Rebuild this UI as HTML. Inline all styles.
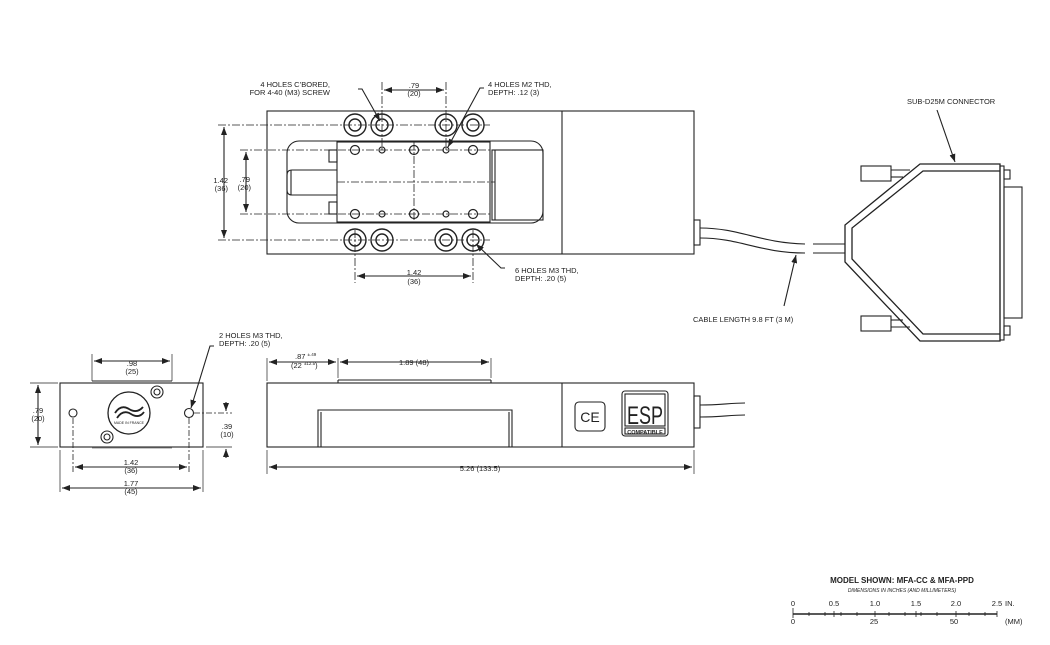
<!DOCTYPE html>
<html><head><meta charset="utf-8"><style>
html,body{margin:0;padding:0;background:#fff}
svg{display:block}
text{font-family:"Liberation Sans",sans-serif;font-size:7.5px;fill:#222}
</style></head><body>
<svg width="1050" height="645" viewBox="0 0 1050 645" xmlns="http://www.w3.org/2000/svg">
<defs>
<marker id="a" markerWidth="8" markerHeight="6" refX="8" refY="3" orient="auto-start-reverse" markerUnits="userSpaceOnUse"><path d="M0,0 L8,3 L0,6 z" fill="#222"/></marker>
</defs>
<g stroke="#222" fill="none" stroke-width="1.1">
<!-- TOP VIEW -->
<rect x="267" y="111" width="427" height="143"/>
<line x1="562" y1="111" x2="562" y2="254"/>
<rect x="287" y="141" width="256" height="82" rx="12"/>
<rect x="337" y="142" width="153" height="80"/>
<rect x="492" y="150" width="51" height="70"/>
<line x1="495" y1="150" x2="495" y2="220"/>
<path d="M337,170 H292 Q287,170 287,175 V190 Q287,195 292,195 H337"/>
<line x1="291" y1="170" x2="291" y2="195"/>
<rect x="329" y="150" width="8" height="12"/>
<rect x="329" y="202" width="8" height="12"/>
<rect x="694" y="220" width="6" height="25"/>
<g stroke-width="1.4">
<circle cx="355" cy="125" r="11"/><circle cx="355" cy="125" r="6"/>
<circle cx="382" cy="125" r="11"/><circle cx="382" cy="125" r="6"/>
<circle cx="446" cy="125" r="11"/><circle cx="446" cy="125" r="6"/>
<circle cx="473" cy="125" r="11"/><circle cx="473" cy="125" r="6"/>
<circle cx="355" cy="240" r="11"/><circle cx="355" cy="240" r="6"/>
<circle cx="382" cy="240" r="11"/><circle cx="382" cy="240" r="6"/>
<circle cx="446" cy="240" r="11"/><circle cx="446" cy="240" r="6"/>
<circle cx="473" cy="240" r="11"/><circle cx="473" cy="240" r="6"/>
</g>
<g stroke-width="1.2">
<circle cx="355" cy="150" r="4.5"/><circle cx="382" cy="150" r="3"/><circle cx="414" cy="150" r="4.5"/><circle cx="446" cy="150" r="3"/><circle cx="473" cy="150" r="4.5"/>
<circle cx="355" cy="214" r="4.5"/><circle cx="382" cy="214" r="3"/><circle cx="414" cy="214" r="4.5"/><circle cx="446" cy="214" r="3"/><circle cx="473" cy="214" r="4.5"/>
</g>
<g stroke-dasharray="8,2,2,2" stroke-width="0.8">
<line x1="218" y1="125" x2="490" y2="125"/><line x1="218" y1="240" x2="490" y2="240"/>
<line x1="240" y1="150" x2="490" y2="150"/><line x1="240" y1="214" x2="490" y2="214"/>
<line x1="337" y1="182" x2="495" y2="182"/>
<line x1="382" y1="82" x2="382" y2="150"/><line x1="446" y1="82" x2="446" y2="150"/>
<line x1="414" y1="142" x2="414" y2="222"/>
<line x1="355" y1="230" x2="355" y2="283"/><line x1="473" y1="230" x2="473" y2="283"/>
</g>
<line x1="384" y1="90" x2="444" y2="90" marker-start="url(#a)" marker-end="url(#a)"/>
<line x1="357" y1="276" x2="471" y2="276" marker-start="url(#a)" marker-end="url(#a)"/>
<line x1="224" y1="127" x2="224" y2="238" marker-start="url(#a)" marker-end="url(#a)"/>
<line x1="246" y1="152" x2="246" y2="212" marker-start="url(#a)" marker-end="url(#a)"/>
<polyline points="358,89 362,89 380,121" marker-end="url(#a)"/>
<polyline points="484,88 480,88 448,147" marker-end="url(#a)"/>
<polyline points="505,268 501,268 476,244" marker-end="url(#a)"/>
<path d="M700,228 C740,228 760,243 805,244"/>
<path d="M700,238 C740,238 760,253 805,253"/>
<line x1="813" y1="244" x2="845" y2="244"/><line x1="813" y1="253" x2="845" y2="253"/>
<polyline points="796,255 784,306" marker-start="url(#a)"/>
<!-- connector -->
<path d="M920,164 H1000 V341 H920 L845,262 V225 Z" stroke-width="1.3"/>
<path d="M1000,171 H923 L852,228 V259 L923,334 H1000" stroke-width="1.3"/>
<rect x="1000" y="166" width="4" height="174"/>
<rect x="1004" y="187" width="18" height="131"/>
<rect x="1004" y="170" width="6" height="9"/><rect x="1004" y="326" width="6" height="9"/>
<rect x="861" y="166" width="30" height="15"/><rect x="861" y="316" width="30" height="15"/>
<line x1="891" y1="170" x2="910" y2="170"/><line x1="891" y1="177" x2="903" y2="177"/>
<line x1="891" y1="320" x2="903" y2="320"/><line x1="891" y1="327" x2="910" y2="327"/>
<polyline points="937,110 955,162" marker-end="url(#a)"/>

<!-- END VIEW -->
<rect x="60" y="383" width="143" height="64"/>
<line x1="92" y1="381" x2="172" y2="381"/>
<line x1="92" y1="448" x2="172" y2="448" stroke-width="0.6"/>
<circle cx="73" cy="413" r="4"/><circle cx="189" cy="413" r="4.5"/>
<circle cx="129" cy="413" r="21" stroke-width="1.3"/>
<path d="M115,413 q6,-9 14,-4 q8,5 14,-2 M117,418 q6,-9 14,-4 q8,5 13,-2" stroke-width="1.8"/>
<circle cx="157" cy="392" r="6"/><circle cx="157" cy="392" r="3"/>
<circle cx="107" cy="437" r="6"/><circle cx="107" cy="437" r="3"/>
<g stroke-dasharray="6,2,2,2" stroke-width="0.8">
<line x1="73" y1="418" x2="73" y2="472"/><line x1="189" y1="418" x2="189" y2="472"/>
<line x1="194" y1="413" x2="232" y2="413"/>
</g>
<line x1="92" y1="354" x2="92" y2="381" stroke-width="0.7"/><line x1="172" y1="354" x2="172" y2="381" stroke-width="0.7"/>
<line x1="94" y1="361" x2="170" y2="361" marker-start="url(#a)" marker-end="url(#a)"/>
<line x1="75" y1="467" x2="187" y2="467" marker-start="url(#a)" marker-end="url(#a)"/>
<line x1="60" y1="450" x2="60" y2="492" stroke-width="0.7"/><line x1="203" y1="450" x2="203" y2="492" stroke-width="0.7"/>
<line x1="62" y1="488" x2="201" y2="488" marker-start="url(#a)" marker-end="url(#a)"/>
<line x1="30" y1="383" x2="58" y2="383" stroke-width="0.7"/><line x1="30" y1="447" x2="58" y2="447" stroke-width="0.7"/>
<line x1="38" y1="385" x2="38" y2="445" marker-start="url(#a)" marker-end="url(#a)"/>
<line x1="206" y1="447" x2="232" y2="447" stroke-width="0.7"/>
<line x1="226" y1="402" x2="226" y2="411" marker-end="url(#a)"/>
<line x1="226" y1="458" x2="226" y2="449" marker-end="url(#a)"/>
<polyline points="214,346 210,346 191,408" marker-end="url(#a)"/>

<!-- SIDE VIEW -->
<rect x="267" y="383" width="427" height="64"/>
<line x1="562" y1="383" x2="562" y2="447"/>
<line x1="338" y1="380" x2="491" y2="380"/><line x1="338" y1="380" x2="338" y2="383"/><line x1="491" y1="380" x2="491" y2="383"/>
<path d="M318,447 V410 H512 V447"/>
<line x1="321" y1="412" x2="321" y2="447"/><line x1="509" y1="412" x2="509" y2="447"/>
<rect x="575" y="402" width="30" height="29" rx="4"/>
<rect x="622" y="391" width="46" height="45" rx="3"/>
<rect x="625" y="394" width="40" height="32"/>
<rect x="625" y="428" width="40" height="6"/>
<rect x="694" y="396" width="6" height="32"/>
<path d="M700,405 C720,405 730,403 745,403 M700,417 C720,417 730,415 745,415"/>
<line x1="267" y1="358" x2="267" y2="381" stroke-width="0.7"/><line x1="338" y1="358" x2="338" y2="378" stroke-width="0.7"/><line x1="491" y1="358" x2="491" y2="378" stroke-width="0.7"/>
<line x1="269" y1="362" x2="336" y2="362" marker-start="url(#a)" marker-end="url(#a)"/>
<line x1="340" y1="362" x2="489" y2="362" marker-start="url(#a)" marker-end="url(#a)"/>
<line x1="267" y1="450" x2="267" y2="474" stroke-width="0.7"/><line x1="694" y1="450" x2="694" y2="474" stroke-width="0.7"/>
<line x1="269" y1="467" x2="692" y2="467" marker-start="url(#a)" marker-end="url(#a)"/>

<line x1="793" y1="614" x2="997" y2="614" stroke-width="1.4"/>
<g stroke-width="0.8">
<line x1="793" y1="608" x2="793" y2="618"/><line x1="834" y1="611" x2="834" y2="617"/><line x1="875" y1="611" x2="875" y2="617"/><line x1="916" y1="611" x2="916" y2="617"/><line x1="956" y1="611" x2="956" y2="617"/><line x1="997" y1="611" x2="997" y2="617"/>
<line x1="809" y1="612" x2="809" y2="616"/><line x1="825" y1="612" x2="825" y2="616"/><line x1="841" y1="612" x2="841" y2="616"/><line x1="857" y1="612" x2="857" y2="616"/><line x1="889" y1="612" x2="889" y2="616"/><line x1="905" y1="612" x2="905" y2="616"/><line x1="921" y1="612" x2="921" y2="616"/><line x1="937" y1="612" x2="937" y2="616"/><line x1="969" y1="612" x2="969" y2="616"/><line x1="985" y1="612" x2="985" y2="616"/>
</g>
</g>
<g>
<text x="330" y="87" text-anchor="end">4 HOLES C’BORED,</text>
<text x="330" y="95" text-anchor="end">FOR 4-40 (M3) SCREW</text>
<text x="414" y="88" text-anchor="middle">.79</text><text x="414" y="96" text-anchor="middle">(20)</text>
<text x="488" y="87">4 HOLES M2 THD,</text><text x="488" y="95">DEPTH: .12 (3)</text>
<text x="414" y="275" text-anchor="middle">1.42</text><text x="414" y="284" text-anchor="middle">(36)</text>
<text x="515" y="273">6 HOLES M3 THD,</text><text x="515" y="281">DEPTH: .20 (5)</text>
<text x="228" y="183" text-anchor="end">1.42</text><text x="228" y="191" text-anchor="end">(36)</text>
<text x="250" y="182" text-anchor="end">.79</text><text x="251" y="190" text-anchor="end">(20)</text>
<text x="907" y="104">SUB-D25M CONNECTOR</text>
<text x="693" y="322">CABLE LENGTH 9.8 FT (3 M)</text>
<text x="219" y="338">2 HOLES M3 THD,</text><text x="219" y="346">DEPTH: .20 (5)</text>
<text x="132" y="366" text-anchor="middle">.98</text><text x="132" y="374" text-anchor="middle">(25)</text>
<text x="131" y="465" text-anchor="middle">1.42</text><text x="131" y="473" text-anchor="middle">(36)</text>
<text x="131" y="486" text-anchor="middle">1.77</text><text x="131" y="494" text-anchor="middle">(45)</text>
<text x="38" y="413" text-anchor="middle">.79</text><text x="38" y="421" text-anchor="middle">(20)</text>
<text x="227" y="429" text-anchor="middle">.39</text><text x="227" y="437" text-anchor="middle">(10)</text>
<text x="295" y="359">.87 <tspan font-size="4.5" dy="-3">±.49</tspan></text>
<text x="291" y="368">(22 <tspan font-size="4.5" dy="-3">±12.5</tspan><tspan dy="3">)</tspan></text>
<text x="414" y="365" text-anchor="middle">1.89 (48)</text>
<text x="480" y="471" text-anchor="middle">5.26 (133.5)</text>
<text x="590" y="422" text-anchor="middle" style="font-size:14px">CE</text>
<text x="645" y="424" text-anchor="middle" style="font-size:25px" textLength="36" lengthAdjust="spacingAndGlyphs">ESP</text>
<text x="645" y="434" text-anchor="middle" style="font-size:5.5px;font-weight:bold">COMPATIBLE</text>
<text x="129" y="424" text-anchor="middle" style="font-size:3.5px">MADE IN FRANCE</text>
<text x="902" y="583" text-anchor="middle" style="font-size:8px;font-weight:bold">MODEL SHOWN: MFA-CC &amp; MFA-PPD</text>
<text x="902" y="592" text-anchor="middle" style="font-size:5px;font-style:italic">DIMENSIONS IN INCHES (AND MILLIMETERS)</text>
<g style="font-size:5px">
<text x="793" y="606" text-anchor="middle">0</text><text x="834" y="606" text-anchor="middle">0.5</text><text x="875" y="606" text-anchor="middle">1.0</text><text x="916" y="606" text-anchor="middle">1.5</text><text x="956" y="606" text-anchor="middle">2.0</text><text x="997" y="606" text-anchor="middle">2.5</text><text x="1005" y="606">IN.</text>
<text x="793" y="624" text-anchor="middle">0</text><text x="874" y="624" text-anchor="middle">25</text><text x="954" y="624" text-anchor="middle">50</text><text x="1005" y="624">(MM)</text>
</g>
</g>
</svg>
</body></html>
